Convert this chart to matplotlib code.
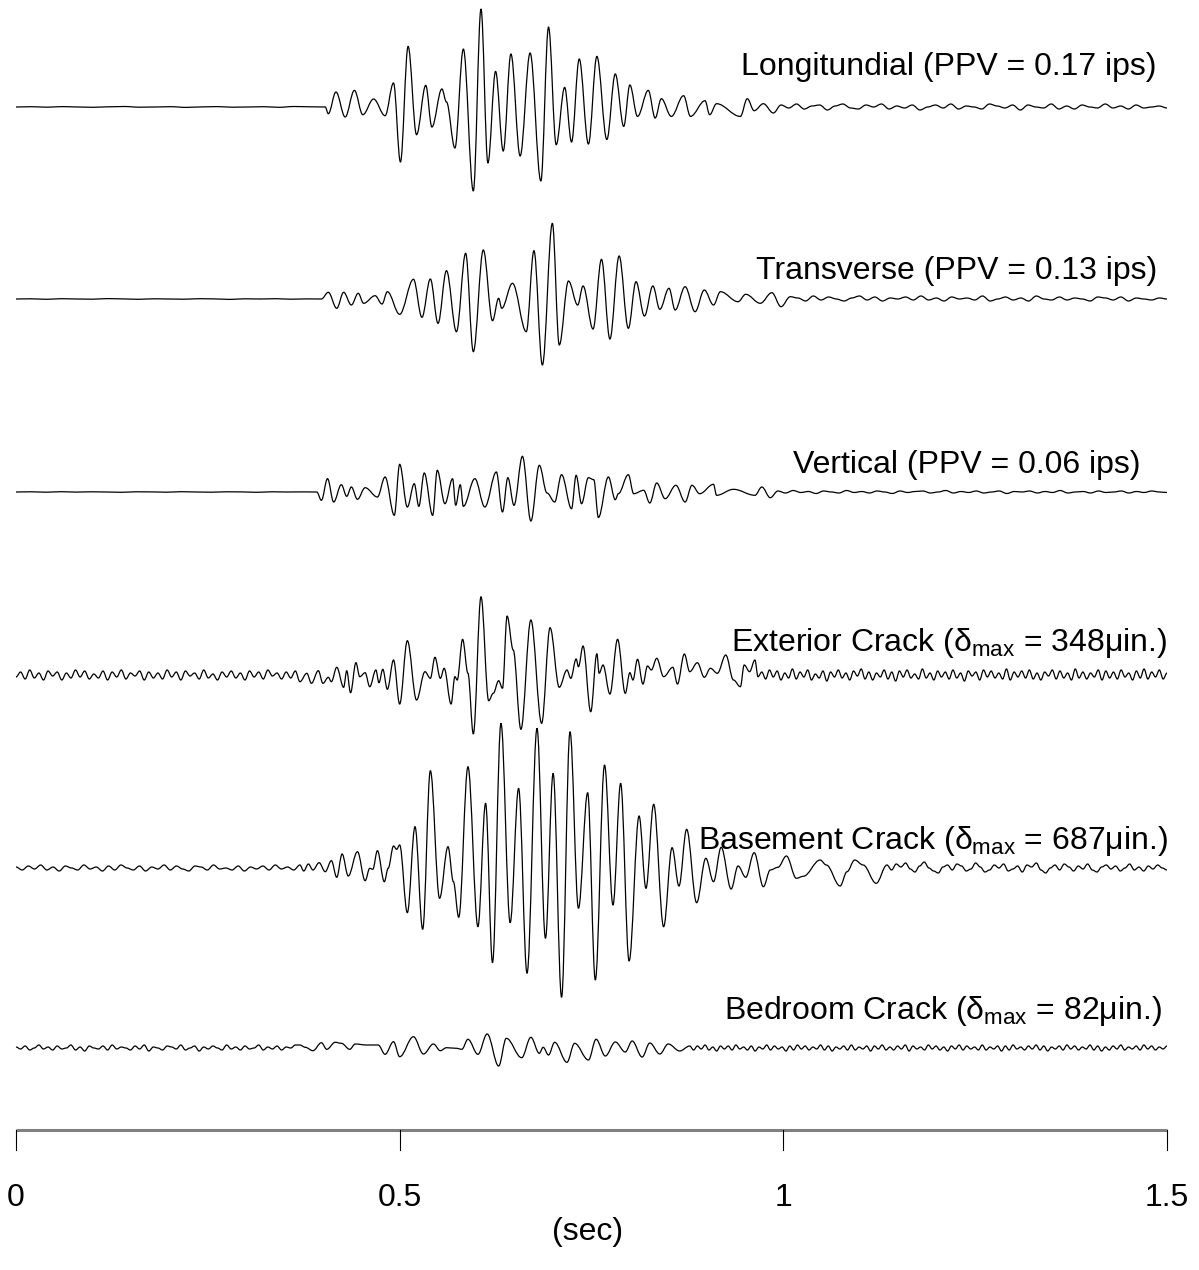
import numpy as np
import matplotlib
matplotlib.use("Agg")
import matplotlib.pyplot as plt
from matplotlib.path import Path
from matplotlib.patches import PathPatch

plt.rcParams["font.family"] = ["Liberation Sans", "DejaVu Sans"]
plt.rcParams["mathtext.fontset"] = "custom"
plt.rcParams["mathtext.rm"] = "Liberation Sans"
plt.rcParams["mathtext.it"] = "Liberation Sans"

# Deflections (up = positive, in record units).
# *_t / *_v: burst extrema; *_pre / *_post: evenly spaced noise samples
# before the burst (from 0 s) and after it (up to 1.5 s).

long_t = [0.403, 0.407, 0.417, 0.429, 0.441, 0.452, 0.466, 0.481, 0.492, 0.501,
          0.511, 0.522, 0.534, 0.542, 0.555, 0.561, 0.572, 0.583, 0.596, 0.606,
          0.615, 0.625, 0.635, 0.645, 0.657, 0.670, 0.684, 0.694, 0.704, 0.715,
          0.724, 0.734, 0.746, 0.757, 0.770, 0.781, 0.792, 0.800, 0.810, 0.824,
          0.833, 0.841, 0.854, 0.870, 0.879, 0.898, 0.904, 0.913, 0.944, 0.953,
          0.962, 0.974, 0.987]
long_v = [0, -6.7, 15, -10, 16.6, -7.7, 8, -8.7, 24, -55,
          60.6, -27.7, 21.6, -20, 18, 5, -41, 58, -84, 98,
          -56, 35.6, -44, 53, -49, 54, -74, 80, -37.7, 19.6,
          -35, 48, -37, 50.6, -32.5, 33, -19.4, 22, -9.4, 16.6,
          -11, 8.3, -9.4, 11.3, -9.4, 6.3, -7.7, 3.3, -9.4, 8.3,
          -3.7, 3.3, -6]
long_pre = [0, 0.3, -0.2, 0.4, 0, -0.3, 0.2, 0.5, -0.2, 0, 0.3, -0.4, 0.1,
            0.4, -0.2, 0, 0.3, -0.3, 0.5, 0.2]
long_post = [2, -1, 3, -2, 1, 2, -3, 1, 3, -1, -2, 2, 0, 3, -2, 1, -1, 2, -3,
             0, 2, -1, 3, -2, 1, 0, -2, 3, 1, -1, 2, -3, 2, 0, -1, 3, -2, 1,
             -2, 2, 0, -1, 3, -1, 1, -2, 2, -1, 0, 1, -1]

trans_t = [0.398, 0.407, 0.418, 0.427, 0.437, 0.446, 0.453, 0.468, 0.477, 0.484,
           0.500, 0.518, 0.529, 0.540, 0.550, 0.561, 0.574, 0.586, 0.596, 0.609,
           0.621, 0.629, 0.633, 0.647, 0.665, 0.675, 0.686, 0.699, 0.708, 0.720,
           0.732, 0.739, 0.752, 0.763, 0.774, 0.786, 0.798, 0.808, 0.819, 0.830,
           0.839, 0.851, 0.859, 0.872, 0.885, 0.897, 0.909, 0.918, 0.941, 0.951,
           0.970, 0.985, 0.997, 1.009]
trans_v = [0, 6.7, -9.3, 6.7, -6, 5.7, -4.3, 3.3, -5, 7.3,
           -15.3, 19.7, -18.3, 20, -24.3, 28.3, -32.7, 45.7, -52.7, 49,
           -21.7, 0.7, -9.3, 15.7, -32.7, 48.3, -66, 75.7, -46, 18,
           -6, 13, -30, 39.7, -40, 43, -29.3, 17.3, -17, 13,
           -10.3, 10.7, -11, 12.3, -12.7, 9, -6, 7.3, -2.7, 4.7,
           -4.3, 6.3, -7.7, 2.3]
trans_pre = [0, 0.2, -0.3, 0.3, 0, -0.2, 0.4, 0.1, -0.3, 0.2, 0, -0.2, 0.3,
             0.1, -0.4, 0.2, 0, 0.3, -0.2, 0.1]
trans_post = [1, -2, 3, -1, 2, 0, -2, 1, 3, -1, 2, -2, 1, 0, 2, -1, 3, -1, 1,
              -2, 2, 0, 1, -1, 3, -2, 0, 2, -1, 1, -2, 3, 0, -1, 2, -1, 1, 0,
              -2, 2, 1, -1, 2, -2, 1, 0, -1, 1, 0]

vert_t = [0.392, 0.398, 0.406, 0.414, 0.424, 0.431, 0.437, 0.445, 0.455, 0.471,
          0.481, 0.493, 0.500, 0.510, 0.519, 0.525, 0.532, 0.543, 0.549, 0.559,
          0.569, 0.573, 0.579, 0.583, 0.598, 0.611, 0.626, 0.634, 0.641, 0.649,
          0.660, 0.671, 0.682, 0.692, 0.702, 0.711, 0.724, 0.730, 0.737, 0.746,
          0.753, 0.759, 0.772, 0.781, 0.785, 0.798, 0.805, 0.818, 0.826, 0.835,
          0.846, 0.860, 0.872, 0.881, 0.891, 0.909, 0.913, 0.935, 0.963, 0.972,
          0.983]
vert_v = [0, -8.3, 13.3, -10, 7.3, -4.3, 5, -7.3, 4.3, -5,
          15, -23.3, 27.7, -15, 8.3, -14.3, 19, -23.3, 21.7, -11.7,
          13.3, -13.3, 7.3, -14.3, 13.3, -15, 20, -20, 14.3, -13.3,
          35.7, -29, 26.7, -1, -10, 17.3, -16.7, 16.7, -11.7, 14.3,
          12.3, -25.5, 15, -7.7, -1.7, 17.3, -1.7, 1.7, -11, 9,
          -6.7, 6.7, -10, 6.7, -1.7, 7.7, -3.3, 2.7, -3.3, 5,
          -5.7]
vert_pre = [0, 0.2, -0.2, 0.3, -0.1, 0.2, 0, -0.3, 0.2, 0.1, -0.2, 0.3, 0,
            -0.2, 0.2, 0.1, -0.3, 0.2, 0, 0.1]
vert_post = [1, -1, 1.5, -0.5, 0.5, -1.5, 1, 0, -1, 1.5, -0.5, 0.5, -1, 1,
             0, -1.5, 1, -0.5, 0.5, 1, -1, 0, 1.5, -1, 0.5, -0.5, 1, -1, 0,
             1, -1.5, 0.5, 0, 1, -1, 0.5, -0.5, 1.5, -1, 0, 0.5, -1, 1, -0.5,
             0, 1, -1, 0.5, -0.5, 1, 0, -0.5]

ext_t = [0.370, 0.379, 0.385, 0.394, 0.400, 0.407, 0.411, 0.418, 0.427, 0.431,
         0.436, 0.443, 0.448, 0.455, 0.461, 0.469, 0.473, 0.478, 0.484, 0.492,
         0.500, 0.510, 0.522, 0.533, 0.540, 0.546, 0.553, 0.558, 0.567, 0.572,
         0.575, 0.582, 0.589, 0.596, 0.606, 0.616, 0.622, 0.629, 0.634, 0.640,
         0.648, 0.658, 0.671, 0.685, 0.696, 0.708, 0.718, 0.723, 0.730, 0.733,
         0.739, 0.749, 0.757, 0.760, 0.765, 0.774, 0.784, 0.794, 0.800, 0.804,
         0.810, 0.817, 0.823, 0.828, 0.835, 0.844, 0.856, 0.862, 0.871, 0.878,
         0.888, 0.897, 0.905, 0.914, 0.925, 0.935, 0.944, 0.949, 0.956, 0.963,
         0.967]
ext_v = [-6.7, 1.7, -8.3, 4.3, -8.3, -2.3, -6.7, 7.7, -12.3, 4.3,
         -17.7, 12.3, -1.7, 2.3, -11.7, 5, -7.7, 5.7, -14.3, 15,
         -29, 34.3, -25, 3.3, -3.3, 17.7, -3.3, 6.7, -29, -1.7,
         -5, 35.7, 1.7, -59, 78.3, -25.7, -18.3, -5.7, -13.3, 59,
         25, -54.3, 55, -48.3, 47.3, -12.3, 5, -3.3, 16, 8.3,
         29, -36.7, 21.3, 1.7, 10, -19, 35.7, -18.3, 2.3, -5,
         15.7, -9, 9, 5, 16.7, -1.7, 7.7, -9, 21, 3.3,
         12.3, -2.3, 6.7, 1.7, 20, -5, -11.7, 10, 3.3, 15,
         -1.7]
ext_pre = [-2, 3, -4, 5, -3, 2, -5, 4, -1, 3, -5, 2, -3, 5, -2, 4, -4, 1, -3,
           4, -5, 3, -2, 5, -4, 2, -1, 4, -5, 3, -3, 2, -4, 5, -2, 3, -5, 4,
           -1, 2, -4, 5, -3, 1, -5, 3, -2, 4, -3, 2, -5, 4, -2, 3, -4, 5, -1,
           2, -4, 3, -3, 4]
ext_post = [3, -4, 5, -2, 4, -5, 2, -3, 6, -4, 3, -2, 5, -5, 1, -3, 4, -6, 3,
            -2, 5, -3, 2, -5, 4, -1, 6, -4, 3, -5, 2, -2, 5, -4, 3, -6, 4, -2,
            5, -3, 1, -4, 6, -3, 2, -5, 4, -2, 3, -4, 5, -3, 2, -6, 4, -1, 3,
            -5, 5, -2, 4, -3, 2, -4, 6, -5, 3, -2, 4, -3, 5, -4, 2, -5, 3, -1,
            5, -4, 4, -3, 2, -5, 6, -3, 3, -4, 2, -2, 5, -5, 4, -3, 3, -4, 5,
            -2, 2, -5, 4, -3, 6, -4, 3, -2, 5, -4, 2]

base_t = [0.370, 0.375, 0.381, 0.387, 0.395, 0.403, 0.411, 0.418, 0.425, 0.433,
          0.445, 0.455, 0.461, 0.465, 0.471, 0.480, 0.485, 0.492, 0.496, 0.500,
          0.510, 0.520, 0.530, 0.540, 0.552, 0.563, 0.570, 0.577, 0.589, 0.602,
          0.612, 0.621, 0.632, 0.644, 0.655, 0.666, 0.679, 0.690, 0.700, 0.711,
          0.722, 0.733, 0.745, 0.755, 0.767, 0.778, 0.788, 0.799, 0.812, 0.821,
          0.831, 0.844, 0.855, 0.864, 0.874, 0.887, 0.899, 0.909, 0.919, 0.932,
          0.941, 0.951, 0.962, 0.974, 0.983, 0.993, 1.004, 1.017, 1.026, 1.048,
          1.056, 1.074, 1.083, 1.093, 1.104, 1.121, 1.135]
base_v = [3, -3, 4, -2, 5.3, -3.7, 7.3, -9.3, 14, -8,
          16.3, -12.7, -0.3, -1.3, 17.3, -13.7, -0.3, 22, 18.7, 23,
          -44.7, 41.3, -61.3, 97.3, -30.3, 21.3, -13.7, -49.3, 101.3, -58.7,
          64.7, -94.7, 144.7, -54.7, 79.7, -105.3, 139.7, -70.3, 94.7, -129.3,
          136.3, -40.3, 75.3, -112, 103, -37, 84.7, -93, 52, -20.3,
          63.7, -58.7, 20.3, -18, 38.7, -34.7, 9.7, -13.7, 20.7, -21,
          2, -9.3, 15.3, -18.7, -2, 0.7, 12, -10.3, -8.3, 8,
          3, -18, -3.7, 8, 3, -15.3, 3]
base_pre = [1, -2, 2, -1, 3, -2, 1, -3, 2, 0, -2, 3, -1, 1, -3, 2, -2, 3, 0,
            -2, 2, -3, 1, -1, 3, -2, 2, -1, -3, 2, 1, -2, 3, -1, 0, -2, 2, -3,
            1, -1, 2, -2, 3, -1, 1, -2]
base_post = [-2, 4, 1, 5, -1, -4, 2, 6, 0, -3, -5, 1, 3, -2, 4, 2, -3, -1, 5,
             1, -4, -2, 3, 0, 4, -3, -1, 2, -4, 3, 1, 5, -2, -5, 0, 3, -2, 4,
             1, -3, 2, -1, 4, -2, -4, 1, 3, -1, 2, -3, 0, 4, -2, 1, -3, 2, -1,
             3, 0, -2]

bed_t = [0.370, 0.377, 0.387, 0.398, 0.405, 0.416, 0.424, 0.435, 0.442, 0.457,
         0.472, 0.481, 0.492, 0.500, 0.518, 0.531, 0.544, 0.553, 0.561, 0.574,
         0.581, 0.589, 0.602, 0.614, 0.629, 0.639, 0.659, 0.671, 0.682, 0.687,
         0.694, 0.702, 0.718, 0.728, 0.746, 0.756, 0.768, 0.781, 0.794, 0.803,
         0.816, 0.826, 0.839, 0.850, 0.865, 0.878]
bed_v = [3, 0.7, -2.7, 5.3, -1.3, 5.7, 4.7, -1.3, 4, 3,
         3, -6.3, 6.3, -8.7, 11.3, -6, 4, -2.7, 0.3, -0.3,
         -1.3, 8.7, -6.3, 14, -18, 9.7, -9.7, 10.7, -5.3, 0.7,
         -7, 5.7, -14.3, 4.7, -12, 8.7, -8, 6, -4, 7,
         -9, 5, -6, 4, -3, 2]
bed_pre = [1, -1, 2, -2, 0, 3, -1, 1, -2, 2, -1, 0, 3, -2, 1, -3, 2, 0, -1, 2,
           -2, 3, -1, 1, 0, -2, 2, -1, 3, -3, 1, 0, -2, 2, 1, -1, 3, -2, 0, 2,
           -3, 1, -1, 2, 0, -2, 3, -1, 1, -2, 2, -1, 0, 3, -2, 1, -1, 2, -2, 1,
           0, 3]
bed_post = [-2, 2, -1, 3, -2, 1, -3, 2, -1, 2, -2, 3, -1, 1, -2, 2, -3, 1, -1,
            3, -2, 2, -1, 1, -3, 2, -2, 3, -1, 2, -2, 1, -1, 3, -2, 2, -3, 1,
            -1, 2, -2, 3, -2, 1, -1, 2, -3, 2, -1, 3, -2, 1, -2, 2, -1, 3, -3,
            2, -1, 1, -2, 3, -1, 2, -2, 1, -3, 2, -1, 3, -2, 2, -1, 1, -2, 3,
            -2, 1, -1, 2, -3, 2, -2, 3, -1, 1, -2, 2, -1, 3, -2, 2, -3, 1, -1,
            2, -2, 3, -1, 2, -2, 1, -1, 3, -2, 2, -3, 1, -2, 2, -1, 3, -2, 1,
            -1, 2, -2, 3, -1, 2, -2, 1, -1, 2]

labels = ["Longitundial (PPV = 0.17 ips)",
          "Transverse (PPV = 0.13 ips)",
          "Vertical (PPV = 0.06 ips)",
          r"Exterior Crack ($\delta_{\mathrm{max}}$ = 348μin.)",
          r"Basement Crack ($\delta_{\mathrm{max}}$ = 687μin.)",
          r"Bedroom Crack ($\delta_{\mathrm{max}}$ = 82μin.)"]
tick_vals = [0, 0.5, 1, 1.5]
tick_labels = ["0", "0.5", "1", "1.5"]

PX_PER_SEC = 767.33
T_END = 1.5


def build(pre, t, v, post):
    """Join pre-noise, burst extrema and post-noise into one (t, y) series."""
    tp = np.linspace(0, t[0], len(pre) + 1)[:-1]
    tq = np.linspace(t[-1], T_END, len(post) + 1)[1:]
    return (np.concatenate([tp, t, tq]),
            np.concatenate([pre, v, post]))


def wave_path(t, y, k=0.36):
    """Bezier path through the samples, flat at each one (sine-like swings)."""
    verts = [(t[0], y[0])]
    codes = [Path.MOVETO]
    for i in range(1, len(t)):
        dt = t[i] - t[i - 1]
        verts += [(t[i - 1] + k * dt, y[i - 1]), (t[i] - k * dt, y[i]),
                  (t[i], y[i])]
        codes += [Path.CURVE4] * 3
    return Path(verts, codes)


traces = [
    (long_pre, long_t, long_v, long_post),
    (trans_pre, trans_t, trans_v, trans_post),
    (vert_pre, vert_t, vert_v, vert_post),
    (ext_pre, ext_t, ext_v, ext_post),
    (base_pre, base_t, base_v, base_post),
    (bed_pre, bed_t, bed_v, bed_post),
]
baselines = [107, 299, 492, 675, 868, 1048]
label_right = [1157, 1157, 1141, 1167, 1168, 1162]
label_base = [75, 279, 473, 651, 849, 1019]

fig = plt.figure(figsize=(11.99, 12.70), dpi=100)
ax = fig.add_axes([0, 0, 1, 1])
ax.set_xlim(-16 / PX_PER_SEC, (1199 - 16) / PX_PER_SEC)
ax.set_ylim(1270, 0)
ax.axis("off")

for (pre, t, v, post), y0, lab, lx, ly in zip(traces, baselines, labels,
                                              label_right, label_base):
    tt, yy = build(pre, t, v, post)
    ax.add_patch(PathPatch(wave_path(tt, y0 - yy), fill=False,
                           edgecolor="black", linewidth=0.9))
    ax.text((lx - 16) / PX_PER_SEC, ly, lab, ha="right", va="baseline",
            fontsize=23)

# time axis
ax.plot([0, T_END], [1130, 1130], color="#808080", linewidth=2.2,
        solid_capstyle="butt")
for tv, tl in zip(tick_vals, tick_labels):
    ax.plot([tv, tv], [1130, 1150], color="black", linewidth=0.8)
    ax.text(tv, 1206, tl, ha="center", va="baseline", fontsize=23)
ax.text(0.745, 1240, "(sec)", ha="center", va="baseline", fontsize=23)

fig.savefig("out.png", dpi=100)
